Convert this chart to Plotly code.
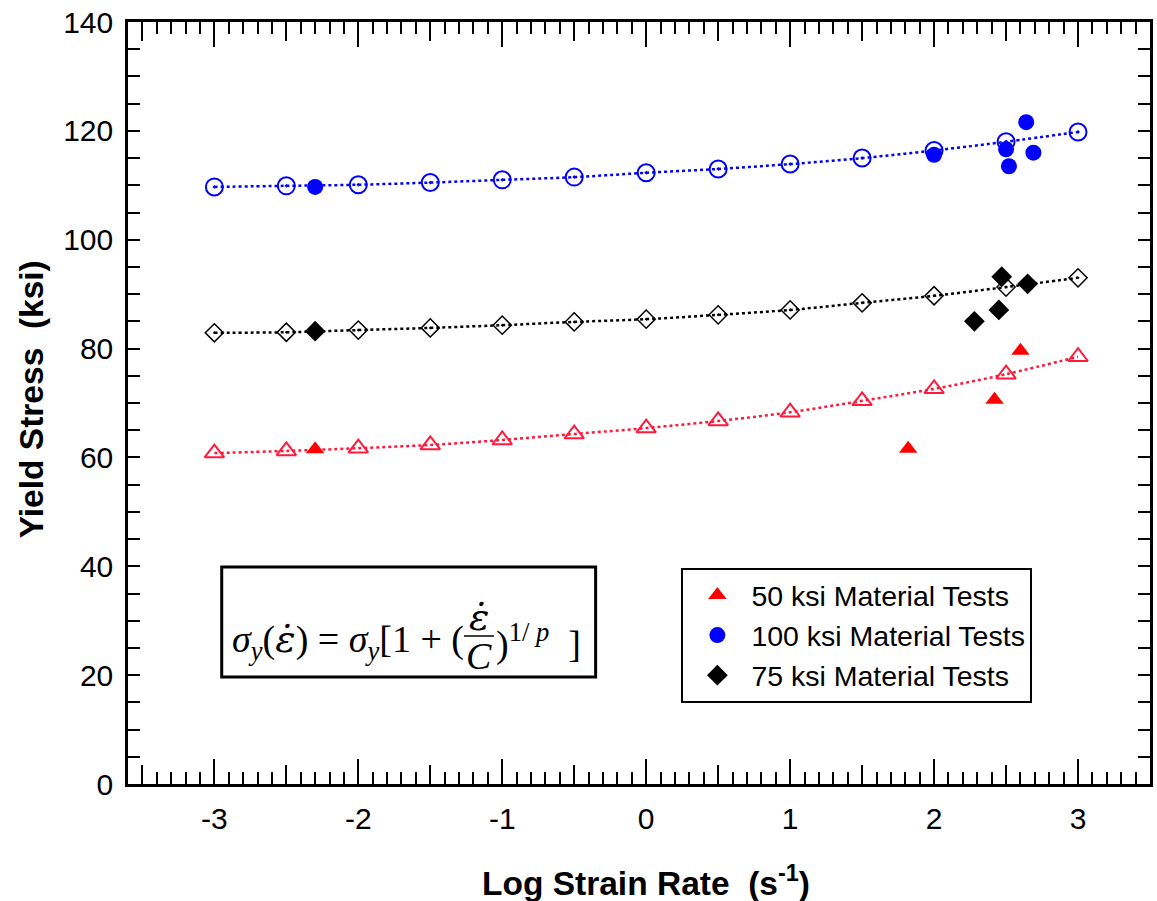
import plotly.graph_objects as go

# ---------------- data ----------------
fit_x = [-3, -2.5, -2, -1.5, -1, -0.5, 0, 0.5, 1, 1.5, 2, 2.5, 3]
fit_100 = [109.7, 109.9, 110.1, 110.5, 111.0, 111.5, 112.3, 113.0, 113.9, 115.0, 116.4, 118.0, 119.8]
fit_75 = [82.9, 83.0, 83.4, 83.8, 84.3, 84.9, 85.4, 86.2, 87.1, 88.4, 89.7, 91.3, 93.0]
fit_50 = [60.8, 61.2, 61.7, 62.3, 63.2, 64.3, 65.4, 66.7, 68.3, 70.4, 72.6, 75.3, 78.5]

test50_x = [-2.3, 1.82, 2.42, 2.60]
test50_y = [61.5, 61.6, 70.6, 79.6]
test100_x = [-2.3, 2.0, 2.50, 2.52, 2.64, 2.69]
test100_y = [109.7, 115.6, 116.6, 113.5, 121.6, 116.0]
test75_x = [-2.3, 2.28, 2.45, 2.47, 2.65]
test75_y = [83.2, 85.0, 87.1, 93.2, 91.9]

x_range = [-3.6, 3.5]
y_range = [0, 140]
x_ticks = [-3, -2, -1, 0, 1, 2, 3]
x_ticklabels = ["-3", "-2", "-1", "0", "1", "2", "3"]
half_ticks = [-3.5, -2.5, -1.5, -0.5, 0.5, 1.5, 2.5]

RED = "#ff0000"
RED_FIT = "#ff1a3c"
BLUE = "#0000ff"
BLACK = "#000000"

W, H = 1157, 901
L, R, T, B = 128, 1153, 22, 784


def px(p):
    return (p - L) / (R - L)


def py(p):
    return (B - p) / (B - T)


fig = go.Figure()

# fitted curves (open markers, dotted)
fig.add_trace(go.Scatter(x=fit_x, y=fit_50, mode="lines+markers", showlegend=False,
                         line=dict(color=RED_FIT, width=2.5, dash="dot", shape="spline"),
                         marker=dict(symbol="triangle-up-open", size=17, color=RED_FIT,
                                     line=dict(width=2, color=RED_FIT))))
fig.add_trace(go.Scatter(x=fit_x, y=fit_100, mode="lines+markers", showlegend=False,
                         line=dict(color=BLUE, width=2.5, dash="dot", shape="spline"),
                         marker=dict(symbol="circle-open-dot", size=17, color=BLUE,
                                     line=dict(width=2, color=BLUE))))
fig.add_trace(go.Scatter(x=fit_x, y=fit_75, mode="lines+markers", showlegend=False,
                         line=dict(color=BLACK, width=2.5, dash="dot", shape="spline"),
                         marker=dict(symbol="diamond-open-dot", size=14, color=BLACK,
                                     line=dict(width=1.5, color=BLACK))))

# material tests
fig.add_trace(go.Scatter(x=test50_x, y=test50_y, mode="markers", name="50 ksi Material Tests",
                         marker=dict(symbol="triangle-up", size=16, color=RED)))
fig.add_trace(go.Scatter(x=test100_x, y=test100_y, mode="markers", name="100 ksi Material Tests",
                         marker=dict(symbol="circle", size=16, color=BLUE)))
fig.add_trace(go.Scatter(x=test75_x, y=test75_y, mode="markers", name="75 ksi Material Tests",
                         marker=dict(symbol="diamond", size=16, color=BLACK)))

# invisible trace to activate the half-unit tick axis
fig.add_trace(go.Scatter(x=[0], y=[0], xaxis="x2", mode="markers", showlegend=False,
                         marker=dict(opacity=0), hoverinfo="skip"))

font_family = "Liberation Sans, Arial, sans-serif"

fig.update_layout(
    width=W, height=H,
    margin=dict(l=L, r=W - R, t=T, b=H - B),
    paper_bgcolor="white", plot_bgcolor="white",
    font=dict(family=font_family, color="black"),
    xaxis=dict(range=x_range, tickvals=x_ticks, ticktext=x_ticklabels, ticks="inside",
               ticklen=25, tickwidth=2, tickcolor="black", showline=True, linecolor="black",
               linewidth=2.5, mirror="ticks", showgrid=False, zeroline=False,
               tickfont=dict(size=30, family=font_family), ticklabelstandoff=6,
               minor=dict(dtick=0.1, tick0=0, ticks="inside", ticklen=12, tickwidth=2,
                          tickcolor="black", showgrid=False)),
    xaxis2=dict(range=x_range, overlaying="x", side="bottom", tickvals=half_ticks,
                ticks="inside", ticklen=19, tickwidth=2, tickcolor="black",
                showticklabels=False, showline=False, mirror="ticks", showgrid=False,
                zeroline=False, matches="x"),
    yaxis=dict(range=y_range, dtick=20, tick0=0, ticks="inside", ticklen=12, tickwidth=2,
               tickcolor="black", showline=True, linecolor="black", linewidth=2.5,
               mirror="ticks", showgrid=False, zeroline=False,
               tickfont=dict(size=30, family=font_family), ticklabelstandoff=6,
               minor=dict(dtick=5, tick0=0, ticks="inside", ticklen=12, tickwidth=2,
                          tickcolor="black", showgrid=False)),
    legend=dict(x=px(683), y=py(568), xanchor="left", yanchor="top",
                bordercolor="black", borderwidth=2, bgcolor="white",
                font=dict(size=28.5, family=font_family), tracegroupgap=0,
                itemsizing="trace", itemwidth=58),
)

# axis titles
fig.add_annotation(x=0.5 * (px(483) + px(813)), y=py(881), xref="paper", yref="paper",
                   text="<b>Log Strain Rate  (s<sup>-1</sup>)</b>", showarrow=False,
                   font=dict(size=33.5, family=font_family), xanchor="center", yanchor="middle")
fig.add_annotation(x=px(31), y=py(399), xref="paper", yref="paper",
                   text="<b>Yield Stress  (ksi)</b>", showarrow=False, textangle=-90,
                   font=dict(size=33.5, family=font_family), xanchor="center", yanchor="middle")

# formula box
fig.add_shape(type="rect", xref="paper", yref="paper", x0=px(222), x1=px(597),
              y0=py(677), y1=py(567), line=dict(color="black", width=3), fillcolor="white",
              layer="above")
serif = "Liberation Serif, Times New Roman, serif"
FS = 38
eps_dot = "<span style=\"font-family:'DejaVu Serif'\"><i>ε̇</i></span>"
fig.add_annotation(x=px(230), y=py(641), xref="paper", yref="paper", xanchor="left",
                   yanchor="middle", showarrow=False,
                   text="<i>σ</i><sub><i>y</i></sub>(" + eps_dot + ") = <i>σ</i><sub><i>y</i></sub>[1 + (",
                   font=dict(size=FS, family=serif, color="black"))
fig.add_annotation(x=px(480), y=py(617), xref="paper", yref="paper", xanchor="center",
                   yanchor="middle", showarrow=False, text=eps_dot,
                   font=dict(size=FS, family=serif, color="black"))
fig.add_shape(type="line", xref="paper", yref="paper", x0=px(465), x1=px(495),
              y0=py(636), y1=py(636), line=dict(color="black", width=1.5), layer="above")
fig.add_annotation(x=px(480), y=py(656), xref="paper", yref="paper", xanchor="center",
                   yanchor="middle", showarrow=False, text="<i>C</i>",
                   font=dict(size=FS, family=serif, color="black"))
fig.add_annotation(x=px(495), y=py(641), xref="paper", yref="paper", xanchor="left",
                   yanchor="middle", showarrow=False,
                   text=")<sup>1/ <i>p</i></sup>  ]",
                   font=dict(size=FS, family=serif, color="black"))

fig.write_html("out.html")
